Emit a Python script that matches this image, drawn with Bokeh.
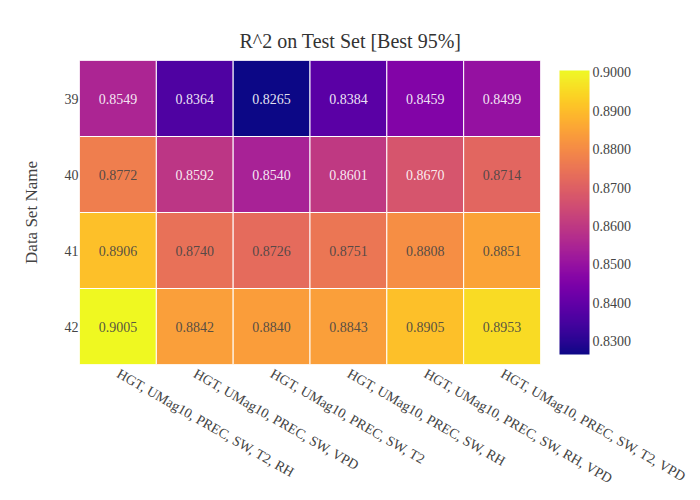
from bokeh.plotting import figure
from bokeh.embed import file_html
from bokeh.resources import INLINE
from bokeh.models import (ColumnDataSource, LinearColorMapper, ColorBar, FixedTicker,
                          PrintfTickFormatter, Title)
from bokeh.palettes import Plasma256
from bokeh.core.properties import value
import math

# data
feature_sets = [
    "HGT, UMag10, PREC, SW, T2, RH",
    "HGT, UMag10, PREC, SW, VPD",
    "HGT, UMag10, PREC, SW, T2",
    "HGT, UMag10, PREC, SW, RH",
    "HGT, UMag10, PREC, SW, RH, VPD",
    "HGT, UMag10, PREC, SW, T2, VPD",
]
data_sets = ["39", "40", "41", "42"]
r2_39 = [0.8549, 0.8364, 0.8265, 0.8384, 0.8459, 0.8499]
r2_40 = [0.8772, 0.8592, 0.8540, 0.8601, 0.8670, 0.8714]
r2_41 = [0.8906, 0.8740, 0.8726, 0.8751, 0.8808, 0.8851]
r2_42 = [0.9005, 0.8842, 0.8840, 0.8843, 0.8905, 0.8953]
cbar_ticks = [0.83, 0.84, 0.85, 0.86, 0.87, 0.88, 0.89, 0.90]

rows = {"39": r2_39, "40": r2_40, "41": r2_41, "42": r2_42}
all_vals = r2_39 + r2_40 + r2_41 + r2_42
lo, hi = min(all_vals), max(all_vals)

FONT = "Liberation Serif"


def text_color(v):
    # plotly-like contrast: white text on dark cells
    idx = int(round((v - lo) / (hi - lo) * 255))
    c = Plasma256[idx]
    r, g, b = int(c[1:3], 16), int(c[3:5], 16), int(c[5:7], 16)
    bright = 0.299 * r + 0.587 * g + 0.114 * b
    return "rgba(255,255,255,0.9)" if bright < 128 else "rgba(68,68,68,0.9)"


xs, ys, vals, labels, tcols = [], [], [], [], []
for ds in data_sets:
    for fs, v in zip(feature_sets, rows[ds]):
        xs.append(fs)
        ys.append(ds)
        vals.append(v)
        labels.append(f"{v:.4f}")
        tcols.append(text_color(v))

source = ColumnDataSource(dict(x=xs, y=ys, v=vals, label=labels, tcol=tcols))
mapper = LinearColorMapper(palette=Plasma256, low=lo, high=hi)

p = figure(x_range=feature_sets, y_range=list(reversed(data_sets)),
           frame_width=461, frame_height=304,
           min_border_left=79, min_border_top=60, min_border_bottom=20,
           min_border_right=152,
           output_backend="svg", toolbar_location=None, title=None)
p.outline_line_color = None
p.grid.grid_line_color = None

p.rect(x="x", y="y", width=1, height=1, source=source,
       fill_color={"field": "v", "transform": mapper},
       line_color="white", line_width=1)
p.text(x="x", y="y", text="label", source=source, text_align="center",
       text_baseline="middle", text_color="tcol",
       text_font=value(FONT), text_font_size="14px")

title = Title(text="R^2 on Test Set [Best 95%]", align="left", offset=160,
              text_font=FONT, text_font_size="20px", text_font_style="normal",
              text_color="#333333", standoff=17)
p.add_layout(title, "above")

for ax in (p.xaxis[0], p.yaxis[0]):
    ax.axis_line_color = None
    ax.major_tick_line_color = None
    ax.minor_tick_line_color = None
    ax.major_tick_out = 0
    ax.major_tick_in = 0
    ax.major_label_text_font = FONT
    ax.major_label_text_font_size = "14px"
    ax.major_label_text_color = "#444444"

p.xaxis.major_label_orientation = -math.pi / 6
p.xaxis.major_label_standoff = 8
p.yaxis.major_label_standoff = 1
p.yaxis.axis_label = "Data Set Name"
p.yaxis.axis_label_text_font = FONT
p.yaxis.axis_label_text_font_size = "17px"
p.yaxis.axis_label_text_font_style = "normal"
p.yaxis.axis_label_text_color = "#444444"
p.yaxis.axis_label_standoff = 21

cbar = ColorBar(color_mapper=mapper, ticker=FixedTicker(ticks=cbar_ticks),
                formatter=PrintfTickFormatter(format="%.4f"),
                width=30, height=284, padding=0, margin=0, location=(19, 10),
                major_tick_line_color=None, bar_line_color=None,
                border_line_color=None, label_standoff=3,
                major_label_text_font=FONT, major_label_text_font_size="14px",
                major_label_text_color="#444444")
p.add_layout(cbar, "right")

open("out.html", "w").write(file_html(p, INLINE))
